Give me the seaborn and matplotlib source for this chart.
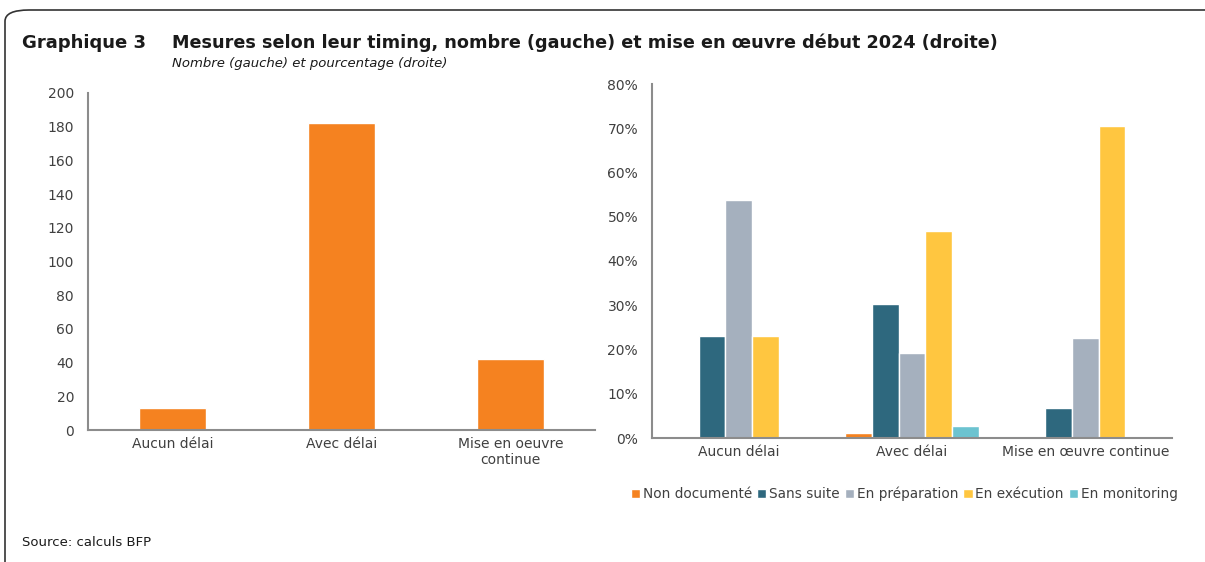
import pandas as pd
import matplotlib.pyplot as plt
import seaborn as sns
from matplotlib.patches import FancyBboxPatch
from matplotlib.ticker import FuncFormatter

sns.set_style('white')
plt.rcParams['font.family'] = ['DejaVu Sans']

# donnees
categories_left = ['Aucun délai', 'Avec délai', 'Mise en oeuvre\ncontinue']
counts = [13, 182, 42]

categories_right = ['Aucun délai', 'Avec délai', 'Mise en œuvre continue']
statuts = ['Non documenté', 'Sans suite', 'En préparation', 'En exécution', 'En monitoring']
non_documente = [0.0, 1.1, 0.0]
sans_suite = [23.1, 30.2, 6.8]
en_preparation = [53.8, 19.2, 22.7]
en_execution = [23.1, 46.7, 70.5]
en_monitoring = [0.0, 2.7, 0.0]

colors = ['#F58220', '#2E687E', '#A5B0BE', '#FFC640', '#6CC3D0']
txt = '#404040'
axc = '#8C8C8C'

left_df = pd.DataFrame({'cat': categories_left, 'n': counts})
series = [non_documente, sans_suite, en_preparation, en_execution, en_monitoring]
right_df = pd.DataFrame([
    {'cat': c, 'statut': s, 'pct': vals[i]}
    for s, vals in zip(statuts, series)
    for i, c in enumerate(categories_right)
])

fig = plt.figure(figsize=(12.05, 5.62), dpi=100)
W, H = 1205, 562

# cadre arrondi
frame = FancyBboxPatch((5 / W, -0.2), 1.3, 1.2 - 10 / H,
                       boxstyle='round,pad=0,rounding_size=0.02',
                       transform=fig.transFigure, fill=False,
                       edgecolor='#333333', linewidth=1.2, clip_on=False)
fig.patches.append(frame)

ax1 = fig.add_axes([88 / W, 1 - 430 / H, (595 - 88) / W, (430 - 93) / H])
ax2 = fig.add_axes([652 / W, 1 - 438 / H, (1172 - 652) / W, (438 - 84) / H])

sns.barplot(data=left_df, x='cat', y='n', color=colors[0], width=0.4,
            saturation=1, ax=ax1)
ax1.set_ylim(0, 200)
ax1.set_yticks(range(0, 201, 20))

sns.barplot(data=right_df, x='cat', y='pct', hue='statut', hue_order=statuts,
            palette=colors, width=0.77, saturation=1, ax=ax2)
ax2.set_ylim(0, 80)
ax2.set_yticks(range(0, 81, 10))
ax2.yaxis.set_major_formatter(FuncFormatter(lambda v, p: f'{v:.0f}%'))

for ax in (ax1, ax2):
    ax.set_xlabel('')
    ax.set_ylabel('')
    ax.set_xlim(-0.5, 2.5)
    for s in ['top', 'right']:
        ax.spines[s].set_visible(False)
    for s in ['left', 'bottom']:
        ax.spines[s].set_color(axc)
        ax.spines[s].set_linewidth(1.5)
    ax.tick_params(axis='y', direction='out', length=4, color=axc, width=1.2,
                   labelsize=10, labelcolor=txt, pad=6)
    ax.tick_params(axis='x', length=0, labelsize=10, labelcolor=txt, pad=5)
    ax.set_xticks([-0.5, 0.5, 1.5, 2.5], minor=True)
    ax.tick_params(axis='x', which='minor', direction='out', length=5,
                   color=axc, width=1.2)

ax2.legend(loc='center', bbox_to_anchor=(0.485, -0.158), ncol=5,
           frameon=False, fontsize=9.8, handlelength=0.7, handleheight=0.7,
           handletextpad=0.2, columnspacing=0.35, labelcolor=txt)

fig.text(22 / W, 1 - 43 / H, 'Graphique 3', fontsize=13, fontweight='bold',
         va='center', color='#1a1a1a')
fig.text(172 / W, 1 - 43 / H,
         'Mesures selon leur timing, nombre (gauche) et mise en œuvre début 2024 (droite)',
         fontsize=12.7, fontweight='bold', va='center', color='#1a1a1a')
fig.text(172 / W, 1 - 63 / H, 'Nombre (gauche) et pourcentage (droite)',
         fontsize=9.5, style='italic', va='center', color='#1a1a1a')
fig.text(22 / W, 1 - 543 / H, 'Source: calculs BFP', fontsize=9.5,
         va='center', color='#1a1a1a')

fig.savefig('out.png', dpi=100)
